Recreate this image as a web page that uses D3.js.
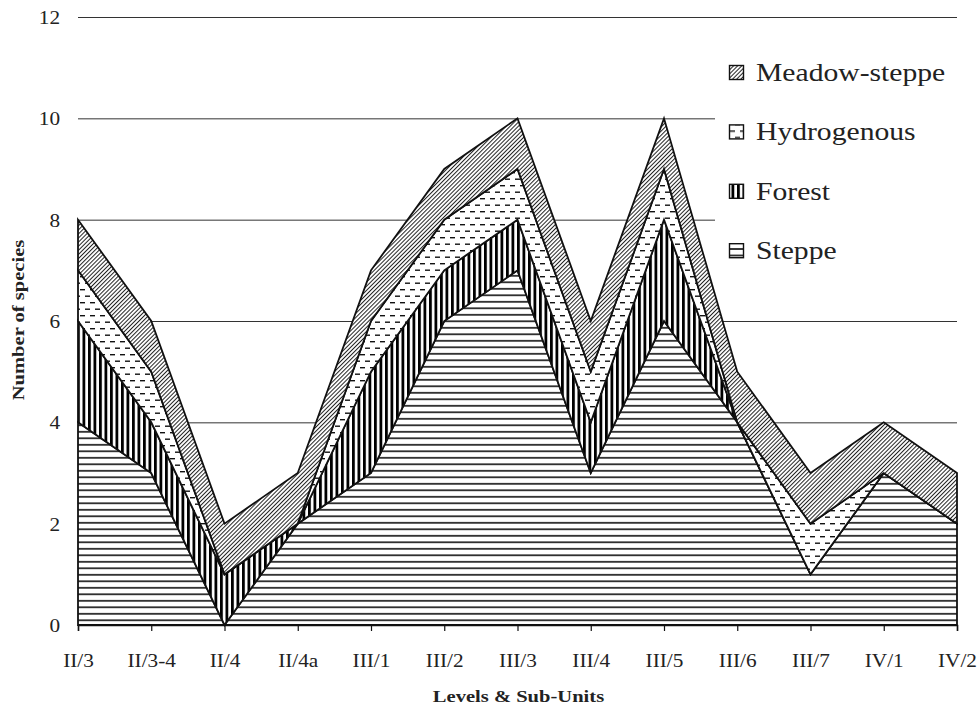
<!DOCTYPE html>
<html>
<head>
<meta charset="utf-8">
<script src="https://cdn.jsdelivr.net/npm/d3@7"></script>
<style>
  html, body { margin: 0; padding: 0; background: #fff; }
  svg { display: block; }
  text { font-family: "Liberation Serif", "Times New Roman", serif; fill: #222; }
</style>
</head>
<body>
<svg id="chart" width="977" height="705"></svg>
<script>
// Species counts per level / sub-unit, by ecological group
const categories = ["II/3", "II/3-4", "II/4", "II/4a", "III/1", "III/2", "III/3",
                    "III/4", "III/5", "III/6", "III/7", "IV/1", "IV/2"];
const steppe       = [4, 3, 0, 2, 3, 6, 7, 3, 6, 4, 1, 3, 2];
const forest       = [2, 1, 1, 0, 2, 1, 1, 1, 2, 0, 0, 0, 0];
const hydrogenous  = [1, 1, 0, 0, 1, 1, 1, 1, 1, 0, 1, 0, 0];
const meadowSteppe = [1, 1, 1, 1, 1, 1, 1, 1, 1, 1, 1, 1, 1];
const seriesNames  = ["Steppe", "Forest", "Hydrogenous", "Meadow-steppe"];
const yTicks       = [0, 2, 4, 6, 8, 10, 12];

const seriesValues = [steppe, forest, hydrogenous, meadowSteppe];
const rows = categories.map((c, i) => {
  const r = { category: c };
  seriesNames.forEach((s, k) => { r[s] = seriesValues[k][i]; });
  return r;
});

const svg = d3.select("#chart");
const plotLeft = 78, plotRight = 957, plotTop = 17, plotBottom = 625;
const SX = 1.12; // horizontal text stretch

const x = d3.scalePoint().domain(categories).range([plotLeft, plotRight]);
const y = d3.scaleLinear().domain([0, 12]).range([plotBottom, plotTop]);

// ---- fill patterns ----
const defs = svg.append("defs");

const pSteppe = defs.append("pattern").attr("id", "p-steppe")
  .attr("patternUnits", "userSpaceOnUse").attr("width", 8).attr("height", 6.5);
pSteppe.append("rect").attr("width", 8).attr("height", 6.5).attr("fill", "#fff");
pSteppe.append("rect").attr("x", 0).attr("y", 2).attr("width", 8).attr("height", 1.6).attr("fill", "#111");

const pForest = defs.append("pattern").attr("id", "p-forest")
  .attr("patternUnits", "userSpaceOnUse").attr("width", 5.5).attr("height", 10);
pForest.append("rect").attr("width", 5.5).attr("height", 10).attr("fill", "#fff");
pForest.append("rect").attr("x", 0).attr("y", 0).attr("width", 2.8).attr("height", 10).attr("fill", "#000");

const pHydro = defs.append("pattern").attr("id", "p-hydro")
  .attr("patternUnits", "userSpaceOnUse").attr("width", 10).attr("height", 13);
pHydro.append("rect").attr("width", 10).attr("height", 13).attr("fill", "#fff");
pHydro.append("rect").attr("x", 0).attr("y", 3).attr("width", 5).attr("height", 1.4).attr("fill", "#111");
pHydro.append("rect").attr("x", 5).attr("y", 9.5).attr("width", 5).attr("height", 1.4).attr("fill", "#111");

const pMeadow = defs.append("pattern").attr("id", "p-meadow")
  .attr("patternUnits", "userSpaceOnUse").attr("width", 2.9).attr("height", 10)
  .attr("patternTransform", "rotate(45)");
pMeadow.append("rect").attr("width", 2.9).attr("height", 10).attr("fill", "#fff");
pMeadow.append("rect").attr("x", 0).attr("y", 0).attr("width", 1).attr("height", 10).attr("fill", "#222");

const fills = {
  "Steppe": "url(#p-steppe)",
  "Forest": "url(#p-forest)",
  "Hydrogenous": "url(#p-hydro)",
  "Meadow-steppe": "url(#p-meadow)"
};

// ---- gridlines ----
const grid = svg.append("g").attr("transform", `translate(${plotLeft},0)`)
  .call(d3.axisLeft(y).tickValues(yTicks.filter(v => v > 0)).tickSize(-(plotRight - plotLeft)).tickFormat(""));
grid.select(".domain").remove();
grid.selectAll(".tick line").attr("stroke", "#333").attr("stroke-width", 1);

// ---- stacked areas ----
const stack = d3.stack().keys(seriesNames);
const layers = stack(rows);
const area = d3.area()
  .x(d => x(d.data.category))
  .y0(d => y(d[0]))
  .y1(d => y(d[1]));

svg.append("g").selectAll("path").data(layers).join("path")
  .attr("d", area)
  .attr("fill", d => fills[d.key])
  .attr("stroke", "#111")
  .attr("stroke-width", 1.8)
  .attr("stroke-linejoin", "miter");

// ---- y tick labels ----
const yAxis = svg.append("g").attr("transform", `translate(${plotLeft},0)`)
  .call(d3.axisLeft(y).tickValues(yTicks).tickSize(0).tickPadding(16).tickFormat(d3.format("d")));
yAxis.select(".domain").remove();
yAxis.selectAll("text")
  .attr("font-size", 19)
  .attr("fill", "#222")
  .attr("dy", "0.34em")
  .attr("transform", `scale(${SX},1)`);

// ---- x axis ----
const xAxis = svg.append("g").attr("transform", `translate(0,${plotBottom})`)
  .call(d3.axisBottom(x).tickSize(6).tickPadding(0));
xAxis.select(".domain").attr("stroke", "#111").attr("stroke-width", 1.5);
xAxis.selectAll(".tick line").attr("stroke", "#111").attr("stroke-width", 1.2);
xAxis.selectAll("text")
  .attr("font-size", 19)
  .attr("fill", "#222")
  .attr("y", 42).attr("dy", 0)
  .attr("transform", `scale(${SX},1)`);

// ---- axis titles ----
svg.append("text")
  .attr("transform", `translate(${(plotLeft + plotRight) / 2 + 1},702) scale(1.21,1)`)
  .attr("text-anchor", "middle")
  .attr("font-size", 17).attr("font-weight", "bold")
  .text("Levels & Sub-Units");

svg.append("text")
  .attr("transform", `translate(24,320) rotate(-90) scale(1.21,1)`)
  .attr("text-anchor", "middle")
  .attr("font-size", 17).attr("font-weight", "bold")
  .text("Number of species");

// ---- legend ----
const legend = svg.append("g");
legend.append("rect").attr("x", 715).attr("y", 35).attr("width", 262).attr("height", 248).attr("fill", "#fff");
const legendOrder = seriesNames.slice().reverse();
const legendRows = legend.selectAll("g.item").data(legendOrder).join("g")
  .attr("class", "item")
  .attr("transform", (d, i) => `translate(0,${81 + i * 59.4})`);
legendRows.append("rect")
  .attr("x", 729.5).attr("y", -15.5).attr("width", 14).attr("height", 14)
  .attr("fill", d => fills[d]).attr("stroke", "#111").attr("stroke-width", 1.4);
legendRows.append("text")
  .attr("transform", `translate(756,0) scale(1.14,1)`)
  .attr("font-size", 26)
  .text(d => d);
</script>
</body>
</html>
